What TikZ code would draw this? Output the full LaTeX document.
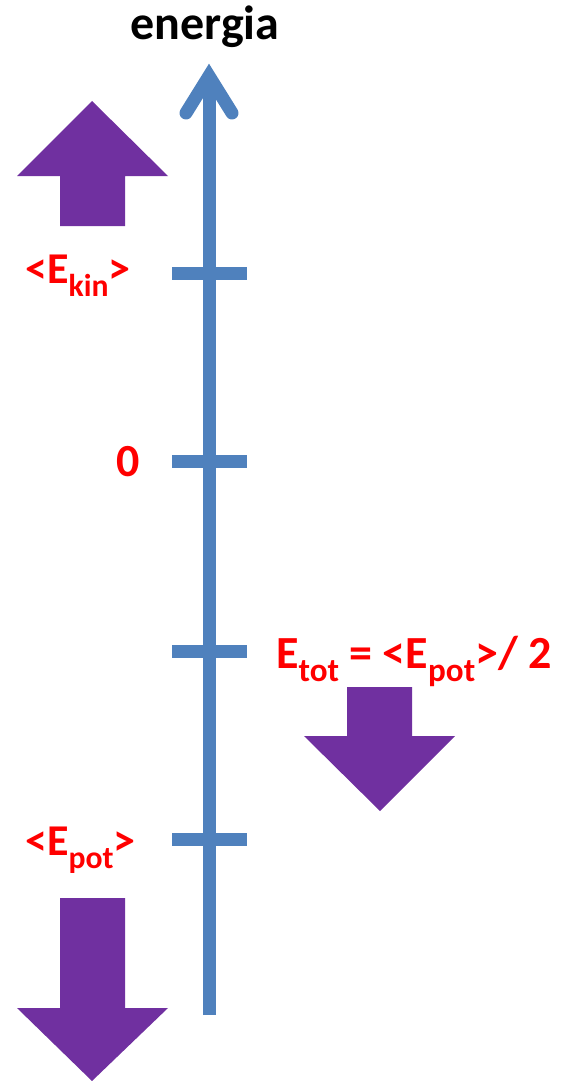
\documentclass[tikz,border=0pt]{standalone}
\usepackage{fontspec}
\setmainfont{Carlito}
\usepackage{graphicx}
\usetikzlibrary{positioning}
\definecolor{axisblue}{HTML}{4F81BD}
\definecolor{shiftpurple}{HTML}{7030A0}
\newcommand{\lowsub}[1]{\raisebox{-0.3em}{\scalebox{0.72}{#1}}}

\begin{document}
\begin{tikzpicture}[
  x=1pt, y=-1pt,
  axis/.style={draw=axisblue, line width=13pt},
  tickmark/.style={draw=axisblue, line width=13pt},
  shiftarrow/.style={fill=shiftpurple},
  lbl/.style={text=red, inner sep=0pt, anchor=base west,
    font=\bfseries\fontsize{44}{52}\selectfont},
  biglbl/.style={lbl, font=\bfseries\fontsize{46}{54}\selectfont}
]
\useasboundingbox (0,0) rectangle (566,1081);

% energy axis
\coordinate (bot) at (209,1015);
\coordinate (top) at (209,76);
\coordinate (barbl) at (186,113);
\coordinate (barbr) at (232,113);
\draw[axis] (bot) -- (top);
\draw[axis, line cap=round, miter limit=10] (barbl) -- (top) -- (barbr);
\node[font=\bfseries\fontsize{48}{56}\selectfont, inner sep=0pt, anchor=base] (title) at (205,40) {energia};

% ticks
\foreach \y/\n in {273/kin, 461/zero, 651/tot, 839/pot} {
  \coordinate (l\n) at (172,\y);
  \coordinate (r\n) at (247,\y);
  \draw[tickmark] (l\n) -- (r\n);
}

% labels
\node[lbl] (ekin) at (25,283) {<E\lowsub{kin}>};
\node[biglbl] (zero) at (116,476) {0};
\node[biglbl] (etot) at (276,668) {E\lowsub{tot} = <E\lowsub{pot}>/ 2};
\node[lbl] (epot) at (25,855) {<E\lowsub{pot}>};

% purple shifts
\fill[shiftarrow] (60,226) -- (60,176) -- (17,176) -- (92,101) -- (168,176) -- (125,176) -- (125,226) -- cycle;
\fill[shiftarrow] (347,687) -- (347,736) -- (304,736) -- (380,811) -- (455,736) -- (412,736) -- (412,687) -- cycle;
\fill[shiftarrow] (60,898) -- (60,1008) -- (17,1008) -- (92,1081) -- (168,1008) -- (125,1008) -- (125,898) -- cycle;
\end{tikzpicture}
\end{document}
